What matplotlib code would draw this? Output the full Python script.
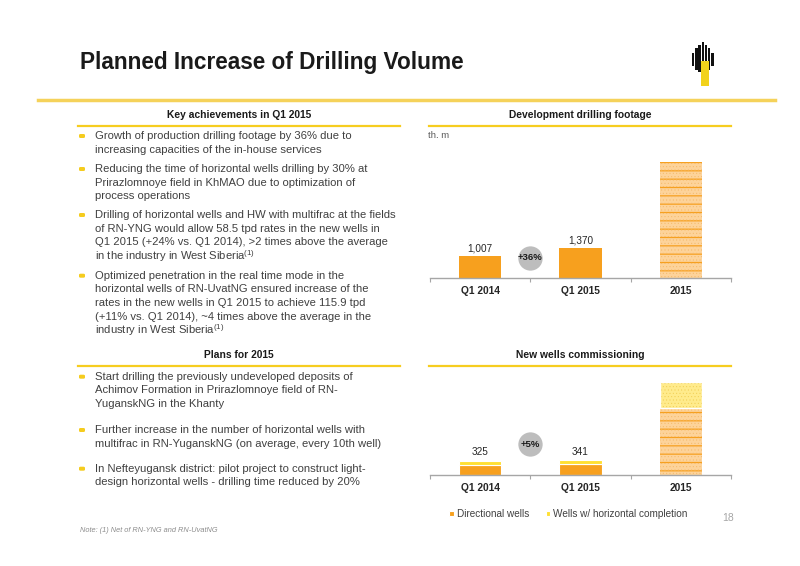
import matplotlib.pyplot as plt
from matplotlib.patches import Rectangle, FancyBboxPatch
from matplotlib.lines import Line2D

plt.rcParams['font.family'] = ['Liberation Sans', 'DejaVu Sans']
plt.rcParams['mathtext.default'] = 'regular'

W, H = 800, 566

# data
categories = ['Q1 2014', 'Q1 2015', '2015']
footage = [1007, 1370, 5300]
footage_labels = ['1,007', '1,370', '']
directional = [235, 240, 1520]
horizontal = [90, 101, 590]
wells_labels = ['325', '341', '']
footage_growth = '+36%'
wells_growth = '+5%'

achievements = [
    ['Growth of production drilling footage by 36% due to',
     'increasing capacities of the in-house services'],
    ['Reducing the time of horizontal wells drilling by 30% at',
     'Prirazlomnoye field in KhMAO due to optimization of',
     'process operations'],
    ['Drilling of horizontal wells and HW with multifrac at the fields',
     'of RN-YNG would allow 58.5 tpd rates in the new wells in',
     'Q1 2015 (+24% vs. Q1 2014), >2 times above the average',
     'in the industry in West Siberia$^{(1)}$'],
    ['Optimized penetration in the real time mode in the',
     'horizontal wells of RN-UvatNG ensured increase of the',
     'rates in the new wells in Q1 2015 to achieve 115.9 tpd',
     '(+11% vs. Q1 2014), ~4 times above the average in the',
     'industry in West Siberia$^{(1)}$'],
]
plans = [
    ['Start drilling the previously undeveloped deposits of',
     'Achimov Formation in Prirazlomnoye field of RN-',
     'YuganskNG in the Khanty'],
    ['Further increase in the number of horizontal wells with',
     'multifrac in RN-YuganskNG (on average, every 10th well)'],
    ['In Nefteyugansk district: pilot project to construct light-',
     'design horizontal wells - drilling time reduced by 20%'],
]

ORANGE = '#F7A01E'
YELLOW = '#FFE033'
LIGHT_OR = '#FDD39A'
LIGHT_YE = '#FFEB8C'
LINE_YE = '#F6CD1F'
TXT = '#404040'


def fx(x):
    return x / W


def fy(y):
    return 1 - y / H


fig = plt.figure(figsize=(8, 5.66), dpi=100)

# title and header line
fig.text(fx(80), fy(63), 'Planned Increase of Drilling Volume',
         fontsize=16.3, fontweight='bold', color='#1a1a1a', va='center')
fig.add_artist(Line2D([fx(38), fx(775)], [fy(100), fy(100)], color='#F5D25A', lw=2.5))

# logo
bar_x = [692, 695.2, 698.4, 701.6, 704.8, 708, 711.2]
bar_top = [53, 48, 45, 42.5, 45, 48, 53]
bar_bot = [66, 70, 72, 72, 72, 70, 66]
for bx, bt, bb in zip(bar_x, bar_top, bar_bot):
    fig.add_artist(Rectangle((fx(bx), fy(bb)), 2.4 / W, (bb - bt) / H,
                             transform=fig.transFigure, color='#111111', lw=0))
fig.add_artist(Rectangle((fx(701), fy(86)), 8 / W, 25 / H,
                         transform=fig.transFigure, color='#F2D21B', lw=0))


# section headers
def header(x0, x1, y, text):
    fig.text(fx((x0 + x1) / 2), fy(y), text, fontsize=7.4, fontweight='bold',
             color='#1a1a1a', ha='center', va='center')
    fig.add_artist(Line2D([fx(x0), fx(x1)], [fy(y + 10.5), fy(y + 10.5)],
                          color=LINE_YE, lw=1.6))


header(78, 400, 115.5, 'Key achievements in Q1 2015')
header(78, 400, 355.5, 'Plans for 2015')
header(429, 731, 115.5, 'Development drilling footage')
header(429, 731, 355.5, 'New wells commissioning')


def bullets(items, starts, step=13.6):
    for lines, y0 in zip(items, starts):
        fig.add_artist(FancyBboxPatch((fx(79), fy(y0 + 2)), 6 / W, 4 / H,
                                      boxstyle='round,pad=0,rounding_size=0.002',
                                      transform=fig.transFigure, color='#F5CC1E', lw=0))
        for k, line in enumerate(lines):
            fig.text(fx(95), fy(y0 + k * step), line, fontsize=8.1, color=TXT,
                     va='center', ha='left')


bullets(achievements, [136, 169, 215, 275.7])
bullets(plans, [376.7, 430, 468.7])

fig.text(fx(80), fy(531), 'Note: (1) Net of RN-YNG and RN-UvatNG', fontsize=5.3,
         style='italic', color='#8C8C8C', va='center')
fig.text(fx(728), fy(518), '18', fontsize=7.5, color='#A6A6A6', va='center', ha='center')


def style_axis(ax):
    for s in ['top', 'left', 'right']:
        ax.spines[s].set_visible(False)
    ax.spines['bottom'].set_color('#A6A6A6')
    ax.spines['bottom'].set_linewidth(1)
    ax.set_xlim(-0.5, 2.5)
    ax.set_yticks([])
    ax.set_xticks(range(len(categories)))
    ax.set_xticklabels(categories, fontsize=7.4, fontweight='bold', color='#262626')
    ax.tick_params(axis='x', which='major', length=0, pad=6)
    ax.set_xticks([-0.5, 0.5, 1.5, 2.5], minor=True)
    ax.tick_params(axis='x', which='minor', length=3, color='#A6A6A6', width=0.8)
    ax.patch.set_alpha(0)


def plan_bar(ax, xpos, height, bottom, fill, line_col, dot_col, lines=True):
    # light fill, thin orange rules and fine dots
    ax.bar(xpos, height, bottom=bottom, width=0.42, color=fill, lw=0)
    plt.rcParams['hatch.linewidth'] = 0.9
    if lines:
        ax.bar(xpos, height, bottom=bottom, width=0.42, fill=False, edgecolor=line_col,
               lw=0, hatch='--')
    plt.rcParams['hatch.linewidth'] = 0.3
    ax.bar(xpos, height, bottom=bottom, width=0.42, fill=False, edgecolor=dot_col,
           lw=0, hatch='.....')


x = list(range(len(categories)))

# development drilling footage
ax1 = fig.add_axes([fx(430), fy(278), 301 / W, 128 / H])
style_axis(ax1)
ax1.set_ylim(0, 5824)
ax1.bar(x[:2], footage[:2], width=0.42, color=ORANGE, lw=0)
plan_bar(ax1, x[2], footage[2], 0, LIGHT_OR, ORANGE, '#F4B868')
for i, lab in enumerate(footage_labels):
    if lab:
        ax1.annotate(lab, (i, footage[i]), xytext=(0, 2), textcoords='offset points',
                     ha='center', va='bottom', fontsize=7.2, color='#262626')
ax1.plot(0.5, 910, 'o', ms=17.5, color='#BDBDBD', mec='none')
ax1.text(0.5, 910, footage_growth, ha='center', va='center', fontsize=6.8,
         fontweight='bold', color='#1a1a1a')
fig.text(fx(428), fy(136), 'th. m', fontsize=6.8, color='#595959', va='center')

# new wells commissioning
ax2 = fig.add_axes([fx(430), fy(475), 301 / W, 105 / H])
style_axis(ax2)
ax2.set_ylim(0, 2384)
b1 = ax2.bar(x[:2], directional[:2], width=0.42, color=ORANGE, edgecolor='white', lw=0.8,
             label='Directional wells')
b2 = ax2.bar(x[:2], horizontal[:2], bottom=directional[:2], width=0.42, color=YELLOW,
             edgecolor='white', lw=0.8, label='Wells w/ horizontal completion')
plan_bar(ax2, x[2], directional[2], 0, LIGHT_OR, ORANGE, '#F4B868')
plan_bar(ax2, x[2], horizontal[2], directional[2], LIGHT_YE, None, '#F0CC50', lines=False)
ax2.bar(x[2], horizontal[2], bottom=directional[2], width=0.42, fill=False,
        edgecolor='white', lw=1)
totals = [d + h for d, h in zip(directional, horizontal)]
for i, lab in enumerate(wells_labels):
    if lab:
        ax2.annotate(lab, (i, max(totals[:2])), xytext=(0, 2.5), textcoords='offset points',
                     ha='center', va='bottom', fontsize=7.2, color='#262626')
ax2.plot(0.5, 700, 'o', ms=17.5, color='#BDBDBD', mec='none')
ax2.text(0.5, 700, wells_growth, ha='center', va='center', fontsize=6.8,
         fontweight='bold', color='#1a1a1a')

fig.legend(handles=[b1, b2], loc='center left', bbox_to_anchor=(fx(444), fy(514)),
           ncol=2, frameon=False, fontsize=7.2, handlelength=0.45, handleheight=0.45,
           handletextpad=0.3, columnspacing=1.7, labelcolor=TXT, borderpad=0)

fig.savefig('out.png', dpi=100)
